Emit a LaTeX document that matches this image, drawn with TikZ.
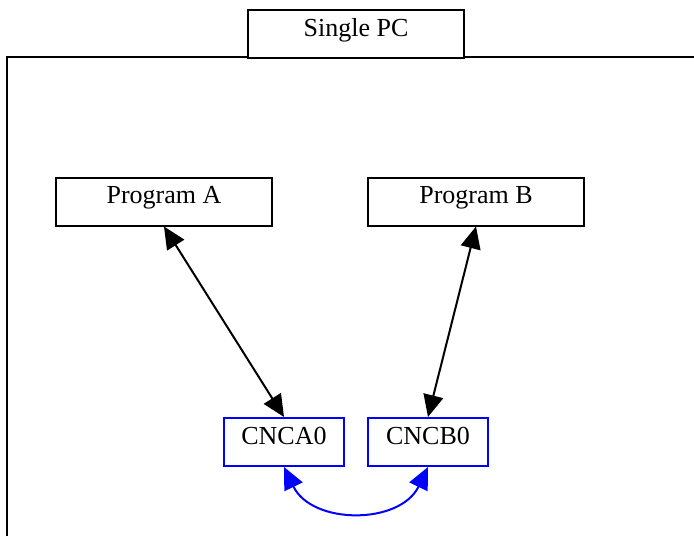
\documentclass[tikz,border=0pt]{standalone}
\usepackage{fontspec}
\setmainfont{Liberation Serif}
\usetikzlibrary{arrows.meta,calc}
\definecolor{cnblue}{RGB}{0,0,255}
\tikzset{
  box/.style={draw=black, line width=2pt, minimum width=216pt, minimum height=48pt,
    inner xsep=2pt, inner ysep=4pt, text height=22pt, text depth=18pt,
    font=\fontsize{26}{30}\selectfont, anchor=north west},
  cnbox/.style={box, draw=cnblue, line width=2pt, minimum width=120pt},
  link/.style={line width=2pt, {Triangle[length=22pt,width=20pt]}-{Triangle[length=22pt,width=20pt]}},
  bluelink/.style={link, draw=cnblue}
}
\begin{document}
\begin{tikzpicture}[x=1pt,y=-1pt]
\useasboundingbox (0,0) rectangle (694,536);
\coordinate (cbl) at (7,536);
\coordinate (ctl) at (7,57);
\coordinate (ctr) at (694,57);
\draw[line width=2.4pt] (cbl) -- (ctl) -- (ctr);
\node[box, fill=white] (pc) at (247,9) {Single PC};
\node[box] (pa) at (55,176.5) {Program A};
\node[box] (pb) at (367,176.5) {Program B};
\node[cnbox] (ca) at (223,417) {CNCA0};
\node[cnbox] (cb) at (367,417) {CNCB0};
\draw[link] (pa.south) -- (ca.north);
\draw[link] (pb.south) -- (cb.north);
\draw[bluelink] (ca.south) .. controls ($(ca.south)+(28,58)$) and ($(cb.south)+(-28,58)$) .. (cb.south);
\end{tikzpicture}
\end{document}
